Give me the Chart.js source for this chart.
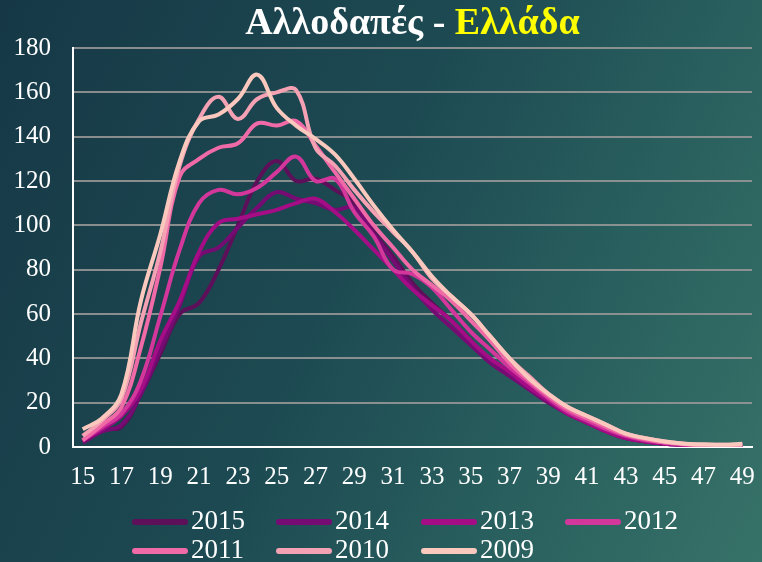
<!DOCTYPE html>
<html lang="el">
<head>
<meta charset="UTF-8">
<title>Αλλοδαπές - Ελλάδα</title>
<script src="https://cdn.jsdelivr.net/npm/chart.js@4.4.1/dist/chart.umd.min.js"></script>
<style>
    html, body {
        margin: 0;
        padding: 0;
    }
    body {
        width: 762px;
        height: 562px;
        overflow: hidden;
        position: relative;
        background: linear-gradient(115deg, #163846 0%, #1d4a52 45%, #2a615f 75%, #377268 100%);
        font-family: "Liberation Serif", "Times New Roman", serif;
    }
    #title {
        position: absolute;
        top: -1px;
        left: 73px;
        width: 679px;
        text-align: center;
        font-size: 38px;
        font-weight: bold;
        color: #ffffff;
    }
    #title .place {
        color: #ffff00;
    }
    #chartBox {
        position: absolute;
        left: 0;
        top: 0;
        width: 762px;
        height: 562px;
    }
    #legend {
        position: absolute;
        left: 0;
        top: 0;
    }
    .legendItem {
        position: absolute;
        height: 30px;
        line-height: 30px;
        color: #ffffff;
        font-size: 27px;
        white-space: nowrap;
    }
    .legendItem .swatch {
        display: inline-block;
        width: 56px;
        height: 6px;
        border-radius: 3px;
        vertical-align: middle;
        margin-right: 3px;
        position: relative;
        top: -1px;
    }
</style>
</head>
<body>
<div id="chartBox"><canvas id="birthsChart" width="762" height="562"></canvas></div>
<div id="title">Αλλοδαπές - <span class="place">Ελλάδα</span></div>
<div id="legend"></div>

<script>
// Ages of the mothers (x axis categories)
const ages = [];
for (let a = 15; a <= 49; a++) ages.push(String(a));

// Series, one per year
const years = ['2015', '2014', '2013', '2012', '2011', '2010', '2009'];
const colors = ['#5e0f5a', '#770b74', '#a50d86', '#d3379b', '#ef6aa7', '#f5a1b4', '#fbc8be'];

const data2015 = [3, 8, 9, 24, 42, 60, 65, 80, 100, 120, 129, 120, 121, 116, 110, 97, 86, 74, 65, 57, 48, 39, 33, 27, 21, 15, 11, 7, 4, 2.5, 1.5, 1, 0.5, 0.5, 0.5];
const data2014 = [2, 7, 10, 24, 44, 64, 86, 90, 99, 108, 115, 112, 110, 107, 108, 96, 84, 72, 62, 54, 46, 38, 32, 26, 20, 15, 11, 7, 4, 2.5, 1.5, 1, 0.5, 0.5, 0.5];
const data2013 = [3, 8, 14, 26, 48, 66, 88, 101, 103, 105, 107, 110, 112, 106, 98, 89, 80, 71, 64, 57, 48, 40, 34, 27, 21, 15, 11, 7, 4, 2.5, 1.5, 1, 0.5, 0.5, 0.5];
const data2012 = [3, 9, 15, 30, 59, 89, 110, 116, 114, 117, 124, 131, 120, 121, 106, 95, 80, 78, 72, 62, 52, 44, 36, 29, 22, 16, 12, 8, 5, 3, 2, 1, 0.5, 0.5, 0.5];
const data2011 = [3, 10, 18, 45, 81, 122, 130, 135, 137, 146, 145, 147, 136, 124, 112, 100, 90, 80, 73, 66, 57, 48, 38, 30, 23, 17, 13, 9, 5.5, 3.5, 2, 1.5, 0.5, 0.5, 1];
const data2010 = [5, 12, 22, 56, 88, 127, 148, 158, 148, 157, 160, 161, 135, 127, 116, 106, 97, 88, 76, 68, 60, 50, 40, 32, 24, 18, 14, 10, 6, 4, 2.5, 1.5, 1, 1, 1];
const data2009 = [8, 13, 24, 66, 96, 129, 147, 150, 157, 168, 153, 145, 139, 132, 121, 109, 98, 88, 77, 68, 60, 50, 40, 31, 24, 18, 14, 10, 6, 4, 2.5, 1.5, 1.2, 1, 1.5];

const seriesValues = [data2015, data2014, data2013, data2012, data2011, data2010, data2009];

// Y axis ticks
const yMin = 0;
const yMax = 180;
const yStep = 20;

const fontFamily = '"Liberation Serif", "Times New Roman", serif';

// Build the datasets from the arrays above
function buildDatasets() {
    return years.map(function(year, i) {
        return {
            label: year,
            data: seriesValues[i],
            borderColor: colors[i],
            backgroundColor: colors[i],
            borderWidth: 4,
            pointRadius: 0,
            tension: 0.4,
            fill: false,
            order: years.length - 1 - i   // 2009 drawn on top
        };
    });
}

// Legend drawn as html text, two rows like the original
function buildLegend() {
    const legend = document.getElementById('legend');
    const xs = [132, 276, 421, 565];
    const rows = [505, 534];
    years.forEach(function(year, i) {
        const item = document.createElement('div');
        item.className = 'legendItem';
        item.style.left = xs[i % 4] + 'px';
        item.style.top = rows[Math.floor(i / 4)] + 'px';
        const swatch = document.createElement('span');
        swatch.className = 'swatch';
        swatch.style.background = colors[i];
        item.appendChild(swatch);
        item.appendChild(document.createTextNode(year));
        legend.appendChild(item);
    });
}

document.addEventListener('DOMContentLoaded', function() {
    const ctx = document.getElementById('birthsChart').getContext('2d');

    new Chart(ctx, {
        type: 'line',
        data: {
            labels: ages,
            datasets: buildDatasets()
        },
        options: {
            responsive: false,
            animation: false,
            layout: {
                padding: { top: 48, right: 10, bottom: 0, left: 0 }
            },
            plugins: {
                legend: { display: false },
                title: { display: false },
                tooltip: { enabled: false }
            },
            scales: {
                x: {
                    offset: true,
                    grid: { display: false, drawTicks: false },
                    border: { display: true, color: '#ffffff', width: 2 },
                    ticks: {
                        autoSkip: false,
                        maxRotation: 0,
                        padding: 15,
                        color: '#ffffff',
                        font: { family: fontFamily, size: 25 },
                        callback: function(value, index) {
                            // only odd ages are labelled
                            return index % 2 === 0 ? ages[index] : '';
                        }
                    },
                    afterFit: function(scale) {
                        scale.height = 115;
                        scale.paddingLeft = 0;
                        scale.paddingRight = 0;
                    }
                },
                y: {
                    min: yMin,
                    max: yMax,
                    grid: {
                        color: 'rgba(150,150,150,0.9)',
                        lineWidth: 2,
                        drawTicks: false
                    },
                    border: { display: true, color: '#ffffff', width: 2 },
                    ticks: {
                        stepSize: yStep,
                        padding: 22,
                        color: '#ffffff',
                        font: { family: fontFamily, size: 25 }
                    },
                    afterFit: function(scale) {
                        scale.width = 73;
                    }
                }
            }
        }
    });

    buildLegend();
});
</script>
</body>
</html>
